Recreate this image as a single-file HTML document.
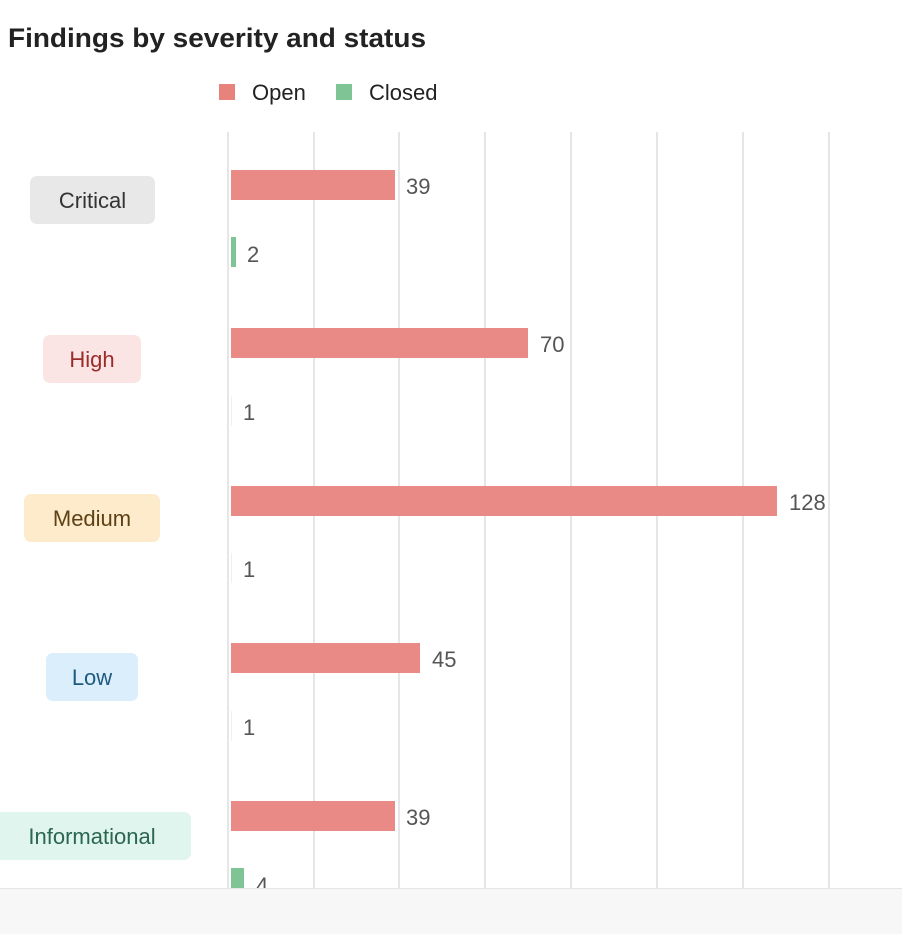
<!DOCTYPE html>
<html><head><meta charset="utf-8"><style>
html,body{margin:0;padding:0;background:#fff;}
svg{display:block;font-family:"Liberation Sans",sans-serif;}
</style></head><body>
<svg width="902" height="934" viewBox="0 0 902 934" xmlns="http://www.w3.org/2000/svg">
<rect x="0" y="0" width="902" height="934" fill="#fff"/>
<text x="8" y="47" font-size="27" font-weight="bold" fill="#222" textLength="418" lengthAdjust="spacingAndGlyphs">Findings by severity and status</text>
<rect x="219" y="84" width="16" height="16" fill="#e8837c"/>
<text x="252" y="100" font-size="22" fill="#222">Open</text>
<rect x="336" y="84" width="16" height="16" fill="#7fc495"/>
<text x="369" y="100" font-size="22" fill="#222">Closed</text>
<g stroke="#e6e6e6" stroke-width="2">
<line x1="228" y1="132" x2="228" y2="888"/>
<line x1="314" y1="132" x2="314" y2="888"/>
<line x1="399" y1="132" x2="399" y2="888"/>
<line x1="485" y1="132" x2="485" y2="888"/>
<line x1="571" y1="132" x2="571" y2="888"/>
<line x1="657" y1="132" x2="657" y2="888"/>
<line x1="743" y1="132" x2="743" y2="888"/>
<line x1="829" y1="132" x2="829" y2="888"/>
</g>
<g fill="#e98a87">
<rect x="231" y="170" width="164" height="30"/>
<rect x="231" y="328" width="297" height="30"/>
<rect x="231" y="486" width="546" height="30"/>
<rect x="231" y="643" width="189" height="30"/>
<rect x="231" y="801" width="164" height="30"/>
</g>
<g fill="#7fc495">
<rect x="231" y="237" width="5" height="30"/>
<rect x="231" y="868" width="13" height="30"/>
</g>
<g fill="#f0f0f0">
<rect x="231" y="396" width="1" height="30"/>
<rect x="231" y="553" width="1" height="30"/>
<rect x="231" y="711" width="1" height="30"/>
</g>
<g font-size="22" fill="#555">
<text x="406" y="194">39</text>
<text x="247" y="262">2</text>
<text x="540" y="352">70</text>
<text x="243" y="420">1</text>
<text x="789" y="510">128</text>
<text x="243" y="577">1</text>
<text x="432" y="667">45</text>
<text x="243" y="735">1</text>
<text x="406" y="825">39</text>
<text x="256" y="893">4</text>
</g>
<rect x="30" y="176" width="125" height="48" rx="7" fill="#e8e8e8"/>
<text x="92.5" y="208" font-size="22" fill="#333" text-anchor="middle">Critical</text>
<rect x="43" y="335" width="98" height="48" rx="7" fill="#fbe4e4"/>
<text x="92" y="367" font-size="22" fill="#9b2c2c" text-anchor="middle">High</text>
<rect x="24" y="494" width="136" height="48" rx="7" fill="#fdebcc"/>
<text x="92" y="526" font-size="22" fill="#5e4216" text-anchor="middle">Medium</text>
<rect x="46" y="653" width="92" height="48" rx="7" fill="#dbeefb"/>
<text x="92" y="685" font-size="22" fill="#1f5a80" text-anchor="middle">Low</text>
<rect x="-6" y="812" width="197" height="48" rx="7" fill="#e0f5ee"/>
<text x="92" y="844" font-size="22" fill="#2a6650" text-anchor="middle">Informational</text>
<rect x="0" y="888" width="902" height="46" fill="#f7f7f7"/>
<line x1="0" y1="888.5" x2="902" y2="888.5" stroke="#e6e6e6" stroke-width="1"/>
</svg>
</body></html>
